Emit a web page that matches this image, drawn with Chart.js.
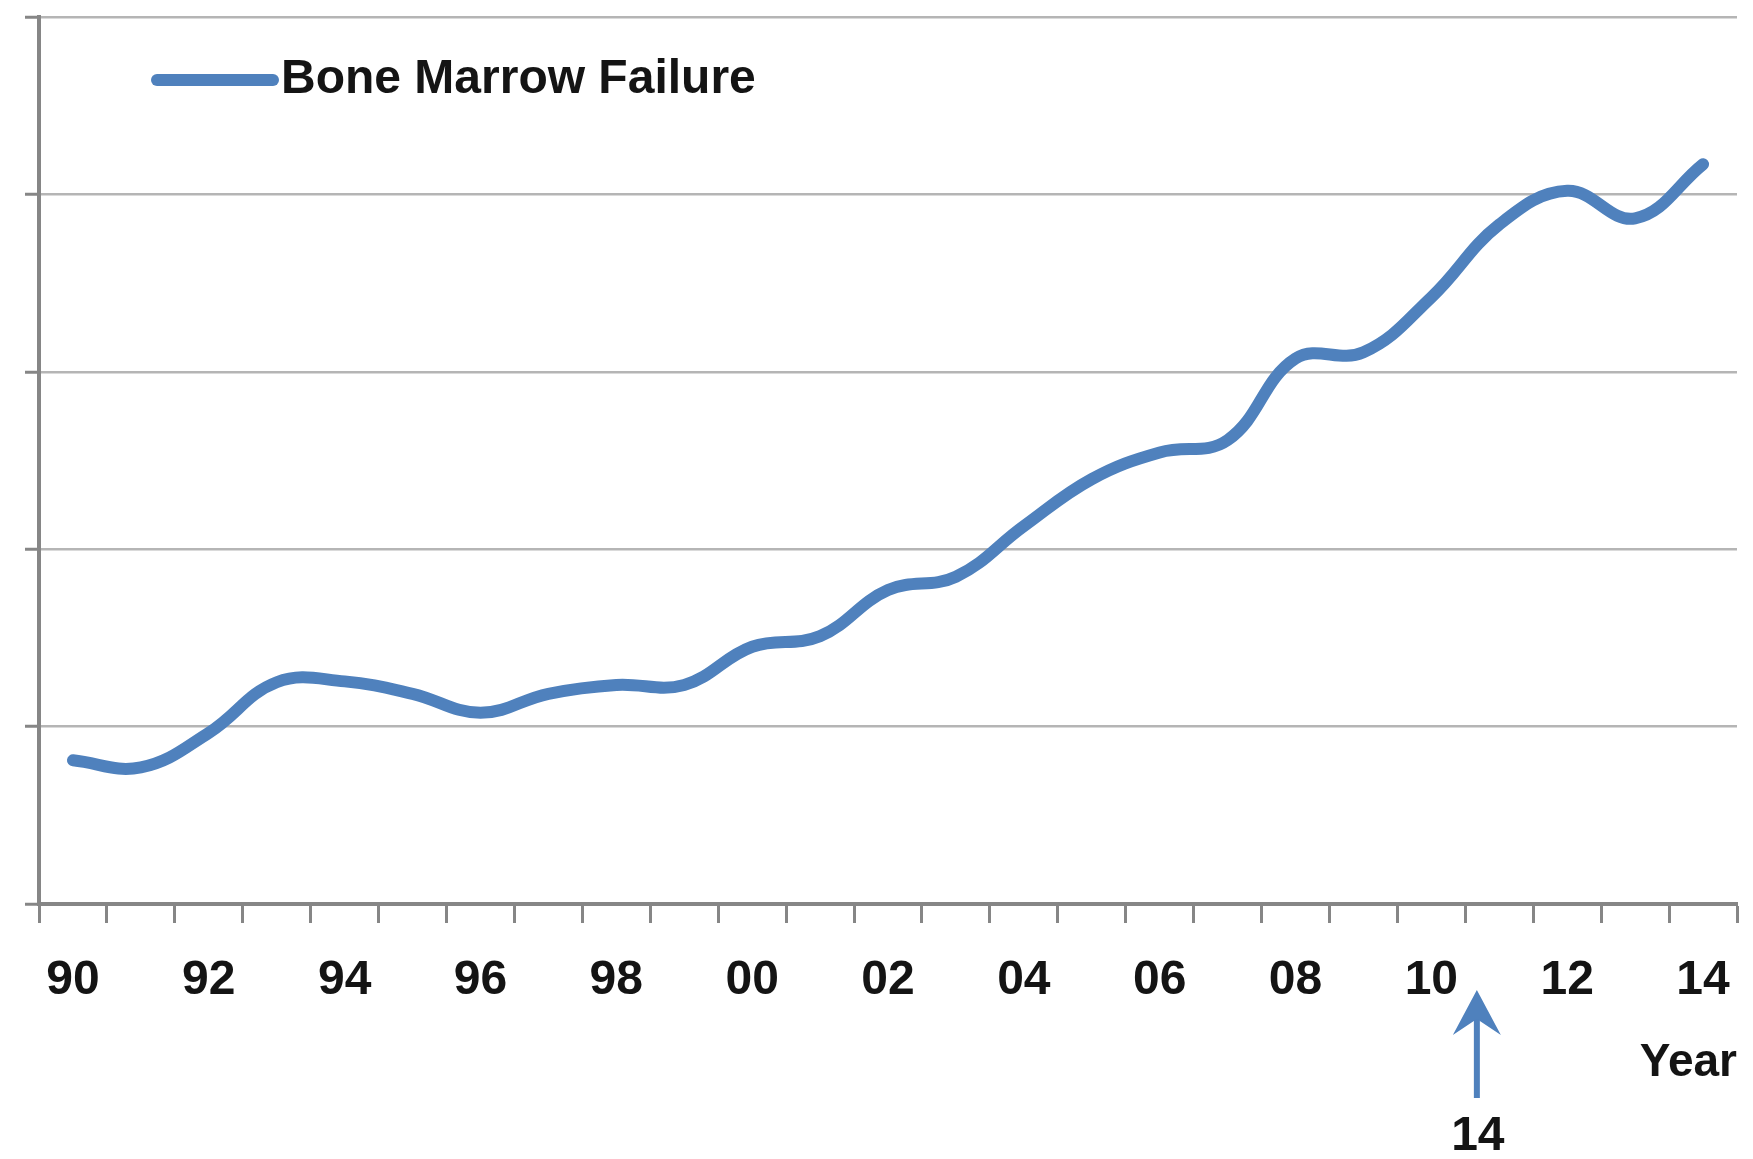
<!DOCTYPE html>
<html><head><meta charset="utf-8">
<script src="https://cdn.jsdelivr.net/npm/chart.js@4.4.1/dist/chart.umd.min.js"></script>
<style>html,body{margin:0;padding:0;background:#fff}#wrap{width:1753px;height:1159px;position:relative}</style>
</head><body><div id="wrap"><canvas id="c"></canvas></div>
<script>
const years = ['90','91','92','93','94','95','96','97','98','99','00','01','02','03','04','05','06','07','08','09','10','11','12','13','14'];
const boneMarrowFailure = [0.81,0.77,0.965,1.25,1.255,1.185,1.078,1.185,1.235,1.235,1.45,1.51,1.77,1.845,2.13,2.395,2.545,2.615,3.075,3.11,3.42,3.83,4.02,3.865,4.17];
const yMin = 0, yMax = 5, yStep = 1;
const seriesLabel = 'Bone Marrow Failure';
const xTitle = 'Year';
const markerLabel = '14';
const markerIndex = 20.67;

const blue = '#4f81bd';
const axisGray = '#868686';
const gridGray = '#b5b5b5';
const textColor = '#141414';
const fontFamily = '"Liberation Sans", Arial, sans-serif';

const overlay = {
  id: 'overlay',
  afterDraw(chart) {
    const {ctx, chartArea, scales} = chart;
    ctx.save();
    // legend
    const lx = chartArea.left + 112, ly = chartArea.top + 63;
    ctx.strokeStyle = blue; ctx.lineWidth = 12; ctx.lineCap = 'round';
    ctx.beginPath(); ctx.moveTo(lx + 6, ly); ctx.lineTo(lx + 122, ly); ctx.stroke();
    ctx.fillStyle = textColor; ctx.font = 'bold 48px ' + fontFamily;
    ctx.textAlign = 'left'; ctx.textBaseline = 'middle';
    ctx.fillText(chart.data.datasets[0].label, lx + 130, ly);
    // marker arrow
    const ax = scales.x.getPixelForValue(markerIndex);
    const tip = chartArea.bottom + 86, headBase = chartArea.bottom + 131, tail = chartArea.bottom + 194;
    ctx.strokeStyle = blue; ctx.fillStyle = blue; ctx.lineWidth = 6; ctx.lineCap = 'butt';
    ctx.beginPath(); ctx.moveTo(ax, tail); ctx.lineTo(ax, tip + 20); ctx.stroke();
    ctx.beginPath(); ctx.moveTo(ax, tip); ctx.lineTo(ax + 24, headBase); ctx.lineTo(ax, headBase - 16); ctx.lineTo(ax - 24, headBase); ctx.closePath(); ctx.fill();
    ctx.fillStyle = textColor; ctx.font = 'bold 48px ' + fontFamily;
    ctx.textAlign = 'center';
    ctx.fillText(markerLabel, ax + 1, chartArea.bottom + 233);
    ctx.restore();
  }
};

new Chart(document.getElementById('c'), {
  type: 'line',
  data: {
    labels: years,
    datasets: [{
      label: seriesLabel,
      data: boneMarrowFailure,
      borderColor: blue,
      backgroundColor: blue,
      borderWidth: 12,
      borderCapStyle: 'round',
      borderJoinStyle: 'round',
      pointRadius: 0,
      tension: 0.4,
      fill: false
    }]
  },
  options: {
    responsive: true,
    maintainAspectRatio: false,
    animation: false,
    devicePixelRatio: 1,
    layout: { padding: { left: 25, right: 16, top: 17, bottom: 66 } },
    plugins: { legend: { display: false }, tooltip: { enabled: false } },
    scales: {
      x: {
        type: 'category',
        offset: true,
        grid: { display: true, offset: true, drawOnChartArea: false, drawTicks: true, tickLength: 19, tickColor: axisGray, tickWidth: 3 },
        border: { display: true, color: axisGray, width: 4 },
        ticks: {
          autoSkip: false, maxRotation: 0, minRotation: 0, padding: 22,
          color: textColor, font: { family: fontFamily, size: 48, weight: 'bold', lineHeight: 1.5 },
          callback: function(v, i) { return i % 2 === 0 ? this.getLabelForValue(v) : ''; }
        },
        title: { display: true, text: xTitle, align: 'end', color: textColor, font: { family: fontFamily, size: 46, weight: 'bold', lineHeight: '30px' }, padding: { top: 9, bottom: 15 } }
      },
      y: {
        min: yMin, max: yMax,
        ticks: { display: false, stepSize: yStep },
        grid: { color: gridGray, lineWidth: 2.5, drawTicks: true, tickLength: 14, tickColor: axisGray, tickWidth: 3 },
        border: { display: true, color: axisGray, width: 4 }
      }
    }
  },
  plugins: [overlay]
});
</script></body></html>
